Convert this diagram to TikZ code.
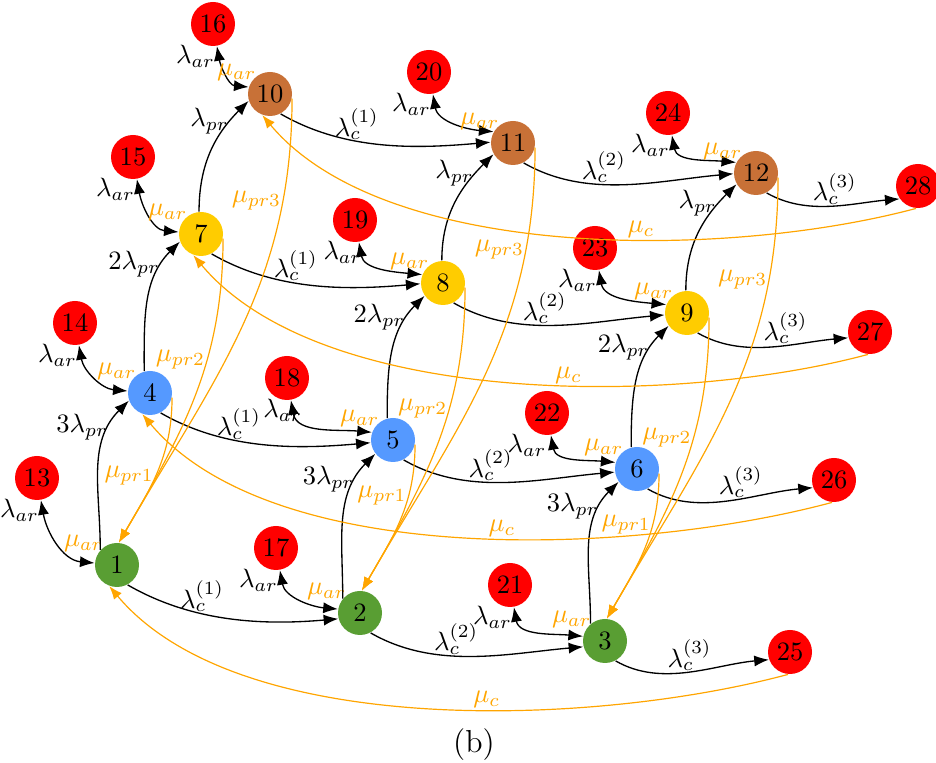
\documentclass[tikz,border=0pt]{standalone}
\usetikzlibrary{arrows.meta}

\definecolor{stgreen}{RGB}{89,158,51}
\definecolor{stblue}{RGB}{85,153,255}
\definecolor{styellow}{RGB}{255,204,0}
\definecolor{stbrown}{RGB}{200,113,55}
\definecolor{stred}{RGB}{255,0,0}
\definecolor{rateorange}{RGB}{255,165,0}

\tikzset{
  state/.style={circle, minimum size=16.6pt, inner sep=0pt},
  lvlone/.style={state, fill=stgreen},
  lvltwo/.style={state, fill=stblue},
  lvlthree/.style={state, fill=styellow},
  lvlfour/.style={state, fill=stbrown},
  absorb/.style={state, fill=stred},
  fwd/.style={-{Latex[length=5.5pt,width=4.2pt]}, black, line width=0.5pt},
  back/.style={-{Latex[length=5pt,width=3.8pt]}, rateorange, line width=0.45pt},
  both/.style={{Latex[length=5.5pt,width=4.2pt]}-{Latex[length=5.5pt,width=4.2pt]}, black, line width=0.5pt},
  lab/.style={inner sep=0.5pt},
  mulab/.style={inner sep=0.5pt, text=rateorange},
}

\begin{document}
\begin{tikzpicture}[x=0.01326cm, y=0.01326cm]
  \useasboundingbox (0,0) rectangle (936,763);

  % main states, one row per level
  \node[lvlone] (1) at (117,198) {1};
  \node[lvlone] (2) at (360,150) {2};
  \node[lvlone] (3) at (605,122) {3};
  \node[lvltwo] (4) at (150,370) {4};
  \node[lvltwo] (5) at (393,323) {5};
  \node[lvltwo] (6) at (637,294) {6};
  \node[lvlthree] (7) at (201,529) {7};
  \node[lvlthree] (8) at (443,480) {8};
  \node[lvlthree] (9) at (687,450) {9};
  \node[lvlfour] (10) at (270,669) {10};
  \node[lvlfour] (11) at (513,620) {11};
  \node[lvlfour] (12) at (756,590) {12};

  % arrival states
  \node[absorb] (13) at (37,285) {13};
  \node[absorb] (14) at (75,440) {14};
  \node[absorb] (15) at (133,606) {15};
  \node[absorb] (16) at (213,739) {16};
  \node[absorb] (17) at (276,215) {17};
  \node[absorb] (18) at (287,385) {18};
  \node[absorb] (19) at (355,543) {19};
  \node[absorb] (20) at (429,691) {20};
  \node[absorb] (21) at (510,178) {21};
  \node[absorb] (22) at (547,350) {22};
  \node[absorb] (23) at (595,515) {23};
  \node[absorb] (24) at (668,650) {24};

  % completion states
  \node[absorb] (25) at (790,111) {25};
  \node[absorb] (26) at (834,283) {26};
  \node[absorb] (27) at (870,431) {27};
  \node[absorb] (28) at (918,577) {28};

  % arrivals
  \foreach \r/\m/\a/\dx in {13/1/175/0, 14/4/175/0, 15/7/175/0, 16/10/162/0,
                            17/2/170/0, 18/5/160/5, 19/8/158/2, 20/11/150/0,
                            21/3/168/0, 22/6/163/-1, 23/9/158/0, 24/12/152/0}
    \draw[both] (\r.-80) to[out=-80,in=175]
      node[lab,pos=0,anchor=north east,xshift=\dx pt,yshift=1pt] {$\lambda_{ar}$} (\m.\a)
      node[mulab,anchor=-30,xshift=1.5pt] at (\m.150) {$\mu_{ar}$};

  % completions
  \foreach \a/\b/\k/\t/\p in {1/2/1/195/0.37, 2/3/2/195/0.42, 3/25/3/200/0.5,
                              4/5/1/187/0.39, 5/6/2/188/0.43, 6/26/3/200/0.58,
                              7/8/1/182/0.42, 8/9/2/185/0.45, 9/27/3/195/0.6,
                              10/11/1/178/0.38, 11/12/2/182/0.4, 12/28/3/215/0.53}
    \draw[fwd] (\a.-62) to[out=-30,in=185,looseness=0.9]
      node[lab,pos=\p,above] {$\lambda_c^{(\k)}$} (\b.\t);

  % promotions
  \foreach \a/\b/\n/\s/\t in {1/4/3/138/200, 2/5/3/140/218, 3/6/3/130/215,
                              4/7/2/105/200, 5/8/2/105/215, 6/9/2/105/215,
                              7/10/{}/95/198, 8/11/{}/93/210, 9/12/{}/93/210}
    \draw[fwd] (\a.\s) to[out=90,in=225]
      node[lab,pos=0.8,left] {$\n\lambda_{pr}$} (\b.\t);

  % returns to the first level
  \foreach \a/\b/\n/\p in {4/1/1/0.52, 7/1/2/0.37, 10/1/3/0.2,
                           5/2/1/0.32, 8/2/2/0.37, 11/2/3/0.2,
                           6/3/1/0.32, 9/3/2/0.37, 12/3/3/0.2}
    \draw[back] (\a.-12) to[out=-90,in=60]
      node[mulab,pos=\p,left] {$\mu_{pr\n}$} (\b.85);

  % restarts
  \foreach \r/\m/\p in {25/1/0.42, 26/4/0.45, 27/7/0.42, 28/10/0.4}
    \draw[back] (\r.-95) to[out=-165,in=-50,looseness=0.75]
      node[mulab,pos=\p,above] {$\mu_c$} (\m.-110);

  \node (cap) at (474,18) {\large (b)};
\end{tikzpicture}
\end{document}
